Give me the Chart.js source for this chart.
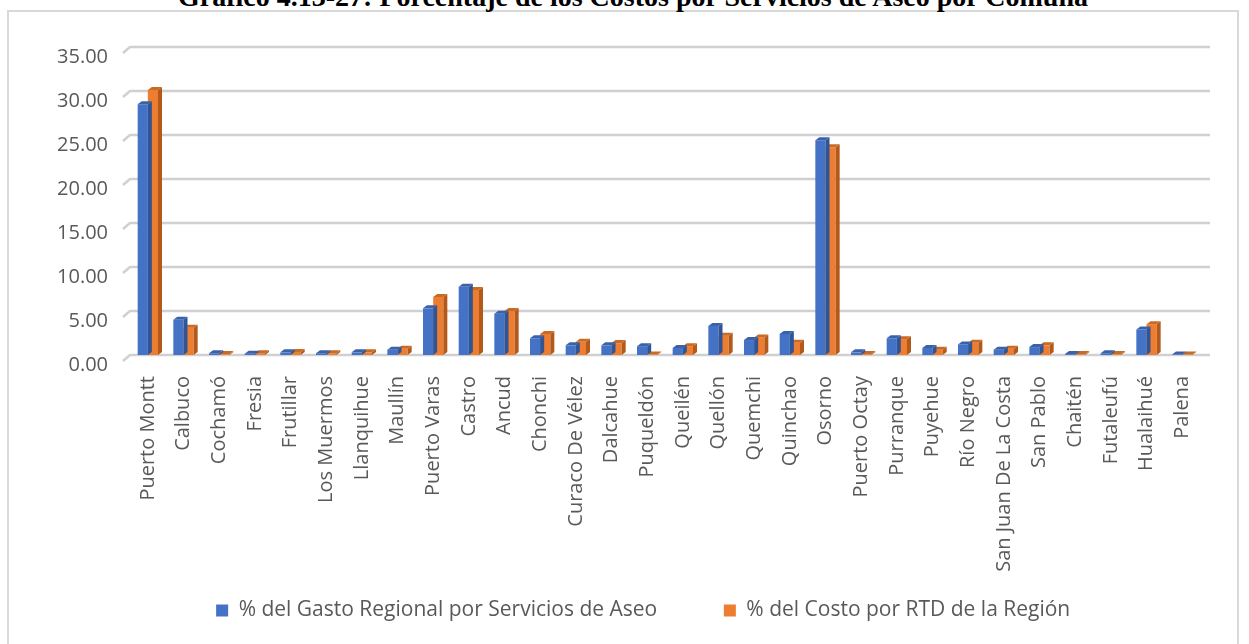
<!DOCTYPE html>
<html>
<head>
<meta charset="utf-8">
<script src="https://cdn.jsdelivr.net/npm/chart.js@4.4.1/dist/chart.umd.min.js"></script>
<style>
  html, body { margin: 0; padding: 0; background: #fff; width: 1249px; height: 644px; overflow: hidden; }
  #title { position: absolute; left: 0; width: 1266px; top: -14px; line-height: 22px; text-align: center;
           font-family: "Liberation Serif", "DejaVu Serif", serif; font-weight: bold; font-size: 28px; color: #000; }
  #box { position: absolute; left: 7px; top: 10px; width: 1228px; height: 640px; border: 2px solid #d9d9d9; background: #fff; }
  #wrap { position: absolute; left: 0; top: 0; width: 1228px; height: 632px; }
</style>
</head>
<body>
<div id="box"><div id="wrap"><canvas id="c"></canvas></div></div>
<div id="title">Gráfico 4.13-27: Porcentaje de los Costos por Servicios de Aseo por Comuna</div>
<script>
const categories = ["Puerto Montt","Calbuco","Cochamó","Fresia","Frutillar","Los Muermos","Llanquihue","Maullín","Puerto Varas","Castro","Ancud","Chonchi","Curaco De Vélez","Dalcahue","Puqueldón","Queilén","Quellón","Quemchi","Quinchao","Osorno","Puerto Octay","Purranque","Puyehue","Río Negro","San Juan De La Costa","San Pablo","Chaitén","Futaleufú","Hualaihué","Palena"];
const gastoRegional = [28.5,4.0,0.2,0.15,0.3,0.2,0.3,0.6,5.3,7.75,4.7,1.9,1.1,1.1,1.0,0.8,3.3,1.7,2.4,24.4,0.3,1.9,0.8,1.2,0.6,0.9,0.1,0.2,2.9,0.05];
const costoRTD = [30.1,3.1,0.1,0.2,0.35,0.2,0.3,0.7,6.6,7.4,5.0,2.4,1.5,1.35,0.05,1.0,2.2,2.0,1.4,23.6,0.1,1.8,0.6,1.4,0.7,1.1,0.1,0.1,3.5,0.05];
const seriesNames = ["% del Gasto Regional por Servicios de Aseo","% del Costo por RTD de la Región"];
const yTicks = [0,5,10,15,20,25,30,35];

const blue = "#4472C4", orange = "#ED7D31";
const blueSide = "#2F5597", orangeSide = "#B35A1B";
const blueTop = "#3A62AB", orangeTop = "#C96A25";

const bar3d = {
  id: "bar3d",
  afterDatasetDraw(chart, args) {
    const ctx = chart.ctx;
    const meta = args.meta;
    const i = args.index;
    const side = i === 0 ? blueSide : orangeSide;
    const top = i === 0 ? blueTop : orangeTop;
    const d = 4, dy = 3;
    ctx.save();
    meta.data.forEach(el => {
      const p = el.getProps(["x","y","base","width"], true);
      const l = p.x - p.width/2, r = p.x + p.width/2;
      ctx.fillStyle = side;
      ctx.beginPath();
      ctx.moveTo(r, p.y); ctx.lineTo(r + d, p.y - dy); ctx.lineTo(r + d, p.base - dy); ctx.lineTo(r, p.base); ctx.closePath(); ctx.fill();
      ctx.fillStyle = top;
      ctx.beginPath();
      ctx.moveTo(l, p.y); ctx.lineTo(l + d, p.y - dy); ctx.lineTo(r + d, p.y - dy); ctx.lineTo(r, p.y); ctx.closePath(); ctx.fill();
    });
    ctx.restore();
  }
};

const slantGrid = {
  id: "slantGrid",
  beforeDatasetsDraw(chart) {
    const ctx = chart.ctx, ys = chart.scales.y, area = chart.chartArea;
    ctx.save();
    ctx.strokeStyle = "#d0d0d0";
    ctx.lineWidth = 2.5;
    yTicks.forEach(v => {
      const y = ys.getPixelForValue(v);
      ctx.beginPath();
      ctx.moveTo(area.left - 7, y + 6);
      ctx.lineTo(area.left, y);
      ctx.lineTo(area.right + 10, y);
      ctx.stroke();
    });
    ctx.restore();
  }
};

// trailing spaces only widen the gap between legend entries
const legendSpacing = ["        ", "        "];

new Chart(document.getElementById("c"), {
  type: "bar",
  data: {
    labels: categories,
    datasets: [
      { label: seriesNames[0], data: gastoRegional, backgroundColor: blue, borderWidth: 0 },
      { label: seriesNames[1], data: costoRTD, backgroundColor: orange, borderWidth: 0 }
    ]
  },
  options: {
    responsive: true,
    maintainAspectRatio: false,
    animation: false,
    categoryPercentage: 0.57,
    barPercentage: 1.0,
    layout: { padding: { top: 35, right: 37, bottom: 13, left: 0 } },
    plugins: {
      title: { display: false },
      tooltip: { enabled: false },
      legend: {
        position: "bottom",
        fullSize: false,
        labels: {
          font: { family: "Open Sans", size: 21 },
          color: "#595959",
          boxWidth: 12, boxHeight: 12,
          padding: 23,
          generateLabels(chart) {
            const items = Chart.defaults.plugins.legend.labels.generateLabels(chart);
            items.forEach((it, i) => { it.text = it.text + legendSpacing[i]; });
            return items;
          }
        }
      }
    },
    scales: {
      x: {
        grid: { display: false },
        border: { display: false },
        ticks: { font: { family: "Open Sans", size: 20 }, color: "#595959", maxRotation: 90, minRotation: 90, autoSkip: false, padding: 13 },
        afterFit(s) { s.height = 222; }
      },
      y: {
        min: 0, max: 35,
        afterBuildTicks(s) { s.ticks = yTicks.map(v => ({ value: v })); },
        grid: { display: false, drawTicks: false },
        border: { display: false },
        ticks: { font: { family: "Open Sans", size: 20 }, color: "#595959", padding: 22, labelOffset: 10,
                 callback: v => Number(v).toFixed(2) },
        afterFit(s) { s.width = 121; }
      }
    }
  },
  plugins: [slantGrid, bar3d]
});
</script>
</body>
</html>
